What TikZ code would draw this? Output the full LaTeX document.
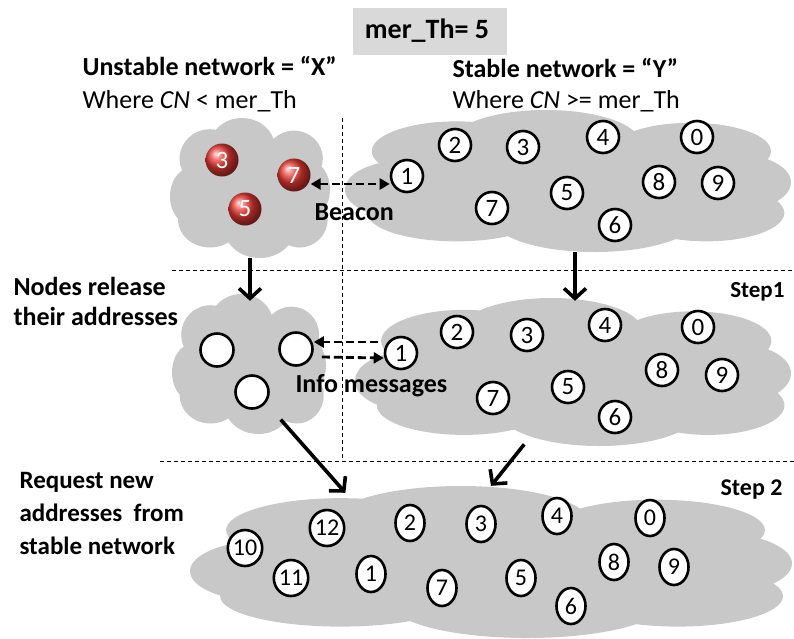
\documentclass[tikz,border=0pt]{standalone}
\usepackage{fontspec}
\setmainfont{Carlito}
\usetikzlibrary{arrows.meta,shapes.geometric}
\definecolor{cloudgray}{RGB}{200,200,200}
\definecolor{boxgray}{RGB}{217,217,217}
\definecolor{ballred}{RGB}{232,58,52}

% cloud of puffs: name, centre x, centre y, half width, half height
\newcommand\netcloud[5]{%
  \begin{scope}[shift={(#2,#3)},xscale=#4,yscale=#5]
    \foreach \cx/\cy/\rx/\ry in {0/0/.8/.65,-.75/.12/.25/.4,-.5/-.42/.38/.42,
        -.1/-.55/.42/.45,.55/-.42/.36/.4,.75/.02/.25/.4,.62/.45/.35/.4,
        .12/.55/.45/.45,-.5/.45/.4/.4}
      \fill[cloudgray] (\cx,\cy) ellipse[x radius=\rx,y radius=\ry];
  \end{scope}
  \node[ellipse,inner sep=0pt,minimum width=2*#4pt,minimum height=2*#5pt]
    (#1) at (#2,#3) {};}

\begin{document}
\begin{tikzpicture}[x=1pt,y=-1pt,
  addr/.style={circle,draw,line width=2.6pt,fill=white,minimum size=32pt,
    inner sep=0pt,font=\fontsize{25}{25}\selectfont},
  addrN/.style={ellipse,draw,line width=2.6pt,fill=white,minimum width=29pt,
    minimum height=36pt,inner sep=0pt,font=\fontsize{24}{24}\selectfont},
  ball/.style={circle,shading=ball,ball color=ballred,minimum size=33pt,
    inner sep=0pt,text=white,font=\fontsize{25}{25}\selectfont},
  lbl/.style={font=\bfseries\fontsize{26}{30}\selectfont,align=left},
  plain/.style={font=\fontsize{26}{26}\selectfont},
  flow/.style={line width=3.6pt,-{Straight Barb[length=10pt,width=22pt,line width=3.6pt]}},
  msg/.style={line width=2.8pt,dash pattern=on 8pt off 4pt,
    -{Triangle[length=10pt,width=11pt]}},
  sep/.style={dashed,line width=.8pt,dash pattern=on 4pt off 3pt}]
  \useasboundingbox (0,0) rectangle (794,638);
  % clouds
  \netcloud{cloudX}{250}{188}{80}{70}
  \netcloud{cloudY}{568}{181}{223}{71}
  \netcloud{relX}{249}{364}{77}{70}
  \netcloud{relY}{573}{372}{218}{74}
  \netcloud{cloudNew}{491}{562}{301}{76}
  % separators
  \draw[sep] (342,118) -- (342,461);
  \draw[sep] (172,270) -- (794,270);
  \draw[sep] (160,461) -- (794,461);
  % header
  \node[fill=boxgray,minimum width=154pt,minimum height=47pt] (thr) at (430,31) {};
  \node[font=\bfseries\fontsize{28}{28}\selectfont] (thrT) at (427,31) {mer\_Th= 5};
  \node[lbl,anchor=base west] (tX) at (79,75) {Unstable network = “X”};
  \node[plain,anchor=base west] (wX) at (79,108) {Where \textit{CN} < mer\_Th};
  \node[lbl,anchor=base west] (tY) at (449,77) {Stable network = “Y”};
  \node[plain,anchor=base west] (wY) at (449,108) {Where \textit{CN} >= mer\_Th};
  % unstable nodes
  \node[ball] (x3) at (222,160) {3};
  \node[ball] (x7) at (294,175) {7};
  \node[ball] (x5) at (245,209) {5};
  % stable nodes
  \foreach \n/\px/\py in {1/407/176,2/455/145,3/523/147,4/603/137,0/697/137,
      8/659/182,9/718/183,5/567/193,7/492/208,6/615/225}
    \node[addr] (y\n) at (\px,\py) {\n};
  \draw[msg,{Triangle[length=10pt,width=11pt]}-{Triangle[length=10pt,width=11pt]}]
    ([yshift=-9pt]x7.east) -- ([yshift=-8pt]y1.west);
  \node[lbl,anchor=base west] (bcn) at (311,220) {Beacon};
  % step 1
  \node[lbl,anchor=base west] (s1) at (10,325) {Nodes release\\their addresses};
  \node[lbl,anchor=base east,font=\bfseries\fontsize{23}{23}\selectfont]
    (st1) at (788,297) {Step1};
  \node[addr,minimum size=33pt] (e1) at (217,350) {};
  \node[addr,minimum size=33pt] (e2) at (296,349) {};
  \node[addr,minimum size=33pt] (e3) at (252,392) {};
  \foreach \n/\px/\py in {1/401/353,2/457/332,3/527/335,4/605/325,0/698/327,
      8/662/370,9/722/375,5/568/387,7/493/398,6/615/417}
    \node[addr] (r\n) at (\px,\py) {\n};
  \draw[msg] ([yshift=11pt]r1.west) ++(-6,0) -- ([yshift=7pt]e2.east);
  \draw[msg] ([yshift=-8pt]e2.east) ++(8,0) -- ([yshift=-5pt]r1.west);
  \node[lbl,anchor=base west] (inf) at (292,392) {Info messages};
  % step 2
  \node[lbl,anchor=base west,font=\bfseries\fontsize{25}{33}\selectfont]
    (s2) at (16,554) {Request new\\addresses \ from\\stable network};
  \node[lbl,anchor=base east,font=\bfseries\fontsize{24}{24}\selectfont]
    (st2) at (786,495) {Step 2};
  \foreach \n/\px/\py in {10/245/548,12/327/528,2/410/523,3/481/524,4/557/516,
      0/650/518,11/291/578,1/371/574,7/442/588,5/521/578,8/614/562,9/674/567,
      6/571/606}
    \node[addrN] (n\n) at (\px,\py) {\n};
  % moves
  \draw[flow,shorten >=-7pt] (cloudX.south) -- (cloudX.south |- relX.north);
  \draw[flow,shorten >=-3pt] ([xshift=7pt]cloudY.south)
    -- ([xshift=7pt]cloudY.south |- relY.north);
  \draw[flow,shorten <=-8pt,shorten >=3pt] (relX.-59) -- (cloudNew.155);
  \draw[flow] (relY.-124) -- (cloudNew.north);
\end{tikzpicture}
\end{document}
